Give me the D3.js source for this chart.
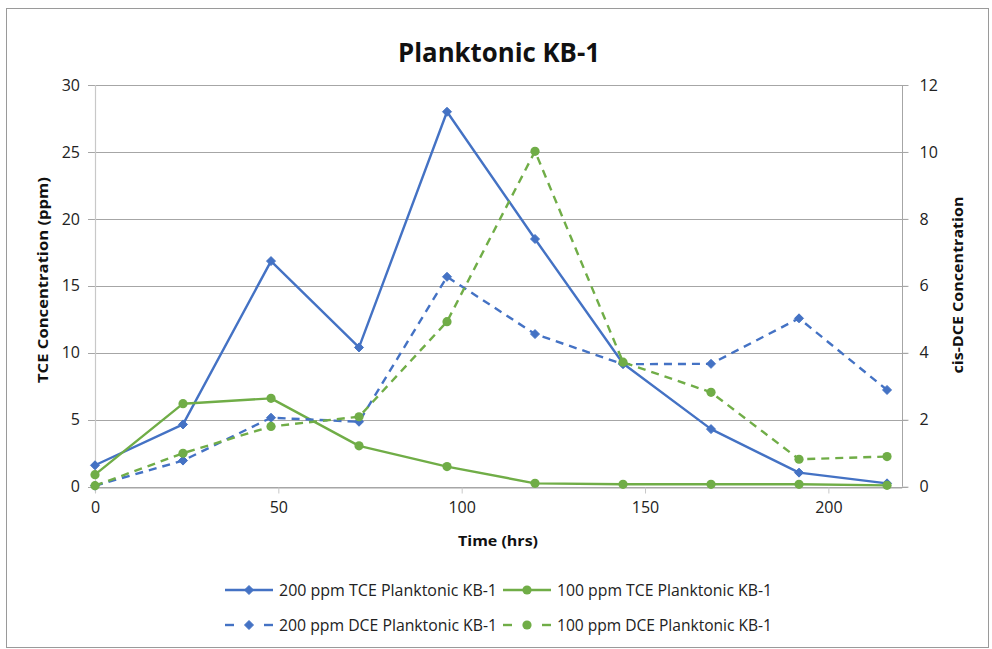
<!DOCTYPE html>
<html>
<head>
<meta charset="utf-8">
<script src="https://cdn.jsdelivr.net/npm/d3@7"></script>
<style>
  html, body { margin: 0; padding: 0; background: #fff; }
  svg { display: block; font-family: "Open Sans", "Noto Sans", sans-serif; }
</style>
</head>
<body>
<svg id="chart" width="992" height="649"></svg>
<script>
// ---- data ----
const times = [0, 24, 48, 72, 96, 120, 144, 168, 192, 216];
const tce200 = [1.6, 4.65, 16.85, 10.4, 28.0, 18.5, 9.2, 4.3, 1.05, 0.25];
const tce100 = [0.9, 6.2, 6.6, 3.05, 1.5, 0.25, 0.18, 0.18, 0.18, 0.1];
const dce200 = [0.03, 0.78, 2.06, 1.94, 6.27, 4.56, 3.66, 3.67, 5.03, 2.89];
const dce100 = [0.03, 1.0, 1.8, 2.09, 4.93, 10.02, 3.72, 2.82, 0.82, 0.9];
const xTicks = [0, 50, 100, 150, 200];
const yLeftTicks = [0, 5, 10, 15, 20, 25, 30];
const yRightTicks = [0, 2, 4, 6, 8, 10, 12];
const seriesNames = ["200 ppm TCE Planktonic KB-1", "100 ppm TCE Planktonic KB-1",
                     "200 ppm DCE Planktonic KB-1", "100 ppm DCE Planktonic KB-1"];

const BLUE = "#4472C4", GREEN = "#70AD47";
const series = [
  { name: seriesNames[0], values: tce200, axis: "left", color: BLUE, dash: null, marker: "diamond" },
  { name: seriesNames[1], values: tce100, axis: "left", color: GREEN, dash: null, marker: "circle" },
  { name: seriesNames[2], values: dce200, axis: "right", color: BLUE, dash: "8,6", marker: "diamond" },
  { name: seriesNames[3], values: dce100, axis: "right", color: GREEN, dash: "8,6", marker: "circle" }
];

const svg = d3.select("#chart");
// outer border
svg.append("rect").attr("x", 6.5).attr("y", 8.5).attr("width", 982).attr("height", 639)
  .attr("fill", "#fff").attr("stroke", "#9a9a9a").attr("stroke-width", 1);

const L = 95, R = 901.7, T = 85, B = 486.7;
const x = d3.scaleLinear().domain([0, 220]).range([L, R]);
const yL = d3.scaleLinear().domain([0, 30]).range([B, T]);
const yR = d3.scaleLinear().domain([0, 12]).range([B, T]);

// gridlines
svg.append("g").selectAll("line").data(yLeftTicks).join("line")
  .attr("x1", L - 7).attr("x2", R + 6)
  .attr("y1", d => Math.round(yL(d)) + 0.5).attr("y2", d => Math.round(yL(d)) + 0.5)
  .attr("stroke", "#a6a6a6").attr("stroke-width", 1);

// left axis line
svg.append("line").attr("x1", L + 0.5).attr("x2", L + 0.5).attr("y1", T).attr("y2", B + 6)
  .attr("stroke", "#c8c8c8").attr("stroke-width", 1.2);
// right axis line
svg.append("line").attr("x1", Math.round(R) + 0.5).attr("x2", Math.round(R) + 0.5).attr("y1", T).attr("y2", B)
  .attr("stroke", "#a6a6a6").attr("stroke-width", 1);

// x axis (ticks downward)
const xAxis = d3.axisBottom(x).tickValues(xTicks).tickSize(6).tickPadding(8).tickSizeOuter(0);
const gx = svg.append("g").attr("transform", `translate(0,${Math.round(B) + 0.5})`).call(xAxis);
gx.select(".domain").attr("stroke", "#a6a6a6");
gx.selectAll(".tick line").attr("stroke", "#c8c8c8");
gx.selectAll("text").attr("font-size", 16).attr("fill", "#222").attr("font-family", "Open Sans");

// left axis labels
const yAxisL = d3.axisLeft(yL).tickValues(yLeftTicks).tickSize(0).tickPadding(15);
const gyl = svg.append("g").attr("transform", `translate(${L},0)`).call(yAxisL);
gyl.select(".domain").remove();
gyl.selectAll("text").attr("font-size", 16).attr("fill", "#222").attr("font-family", "Open Sans");

// right axis labels
const yAxisR = d3.axisRight(yR).tickValues(yRightTicks).tickSize(6).tickPadding(11);
const gyr = svg.append("g").attr("transform", `translate(${Math.round(R) + 0.5},0)`).call(yAxisR);
gyr.select(".domain").remove();
gyr.selectAll(".tick line").attr("stroke", "#a6a6a6");
gyr.selectAll("text").attr("font-size", 16).attr("fill", "#222").attr("font-family", "Open Sans");

// lines
series.forEach(s => {
  const ys = s.axis === "left" ? yL : yR;
  const line = d3.line().x((d, i) => x(times[i])).y(d => ys(d));
  svg.append("path").datum(s.values).attr("d", line)
    .attr("fill", "none").attr("stroke", s.color).attr("stroke-width", 2.4)
    .attr("stroke-dasharray", s.dash).attr("stroke-linejoin", "round");
  const pts = svg.append("g");
  s.values.forEach((v, i) => drawMarker(pts, s.marker, x(times[i]), ys(v), s.color));
});

function drawMarker(g, type, cx, cy, color) {
  if (type === "diamond") {
    const r = 4.5;
    g.append("path").attr("d", `M${cx},${cy - r}L${cx + r},${cy}L${cx},${cy + r}L${cx - r},${cy}Z`)
      .attr("fill", color).attr("stroke", color).attr("stroke-width", 1);
  } else {
    g.append("circle").attr("cx", cx).attr("cy", cy).attr("r", 4.6).attr("fill", color);
  }
}

// title
svg.append("text").attr("x", 499).attr("y", 62).attr("text-anchor", "middle")
  .attr("font-size", 27).attr("font-weight", "bold").attr("fill", "#111")
  .attr("textLength", 202).attr("lengthAdjust", "spacingAndGlyphs")
  .text("Planktonic KB-1");

// axis titles
svg.append("text").attr("transform", "translate(48,280) rotate(-90)").attr("text-anchor", "middle")
  .attr("font-size", 15).attr("font-weight", "bold").attr("fill", "#111")
  .attr("textLength", 206).attr("lengthAdjust", "spacingAndGlyphs")
  .text("TCE Concentration (ppm)");
svg.append("text").attr("transform", "translate(963,285) rotate(-90)").attr("text-anchor", "middle")
  .attr("font-size", 15).attr("font-weight", "bold").attr("fill", "#111")
  .attr("textLength", 177).attr("lengthAdjust", "spacingAndGlyphs")
  .text("cis-DCE Concentration");
svg.append("text").attr("x", 498).attr("y", 546).attr("text-anchor", "middle")
  .attr("font-size", 15).attr("font-weight", "bold").attr("fill", "#111")
  .attr("textLength", 80).attr("lengthAdjust", "spacingAndGlyphs")
  .text("Time (hrs)");

// legend
const legendPos = [
  { lx: 225, tx: 279, y: 590, tw: 218 },
  { lx: 503, tx: 557, y: 590, tw: 215 },
  { lx: 225, tx: 279, y: 625, tw: 218 },
  { lx: 503, tx: 557, y: 625, tw: 215 }
];
series.forEach((s, i) => {
  const p = legendPos[i];
  const g = svg.append("g");
  if (s.dash) {
    g.append("line").attr("x1", p.lx).attr("x2", p.lx + 9).attr("y1", p.y).attr("y2", p.y)
      .attr("stroke", s.color).attr("stroke-width", 2.4);
    g.append("line").attr("x1", p.lx + 39).attr("x2", p.lx + 48).attr("y1", p.y).attr("y2", p.y)
      .attr("stroke", s.color).attr("stroke-width", 2.4);
  } else {
    g.append("line").attr("x1", p.lx).attr("x2", p.lx + 48).attr("y1", p.y).attr("y2", p.y)
      .attr("stroke", s.color).attr("stroke-width", 2.4);
  }
  drawMarker(g, s.marker, p.lx + 24, p.y, s.color);
  g.append("text").attr("x", p.tx).attr("y", p.y).attr("dy", "0.35em")
    .attr("font-size", 16).attr("fill", "#222")
    .attr("textLength", p.tw).attr("lengthAdjust", "spacingAndGlyphs")
    .text(s.name);
});
</script>
</body>
</html>
